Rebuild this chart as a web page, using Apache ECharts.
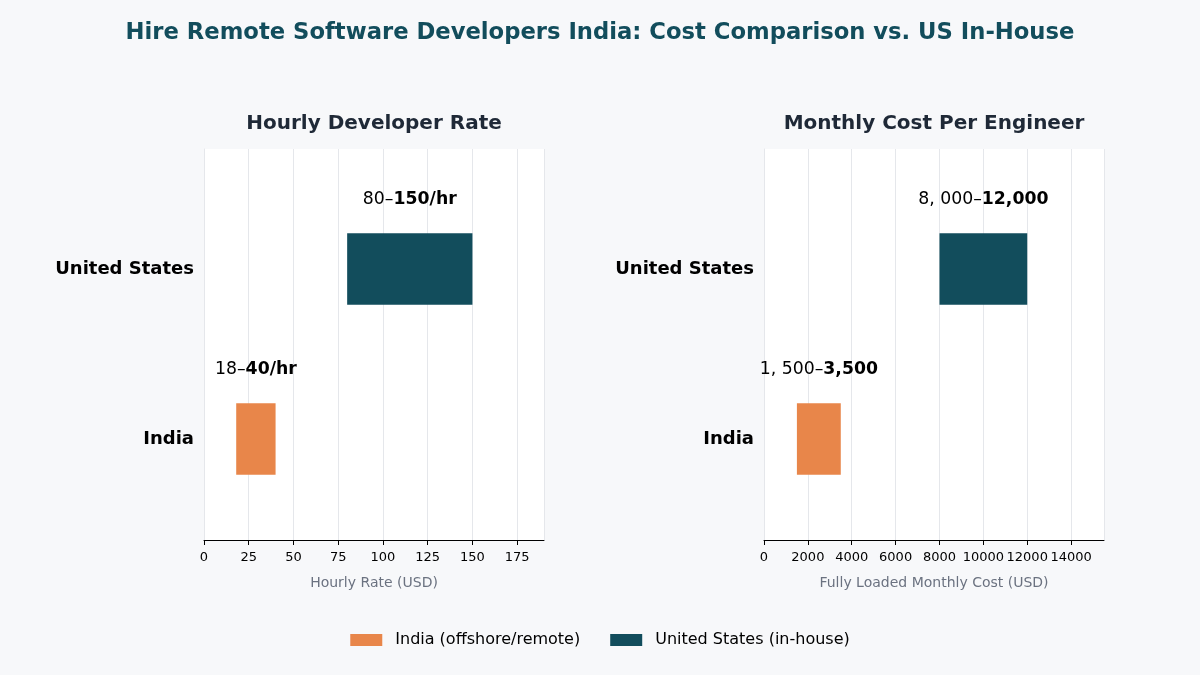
<!DOCTYPE html>
<html>
<head>
<meta charset="utf-8">
<script src="https://cdn.jsdelivr.net/npm/echarts@6/dist/echarts.min.js"></script>
<style>
  html, body { margin: 0; padding: 0; background: #f7f8fa; }
  #main { width: 1200px; height: 675px; }
</style>
</head>
<body>
<div id="main"></div>
<script>
  // categories (bottom to top)
  var categories = ['India', 'United States'];
  var seriesNames = ['India (offshore/remote)', 'United States (in-house)'];

  // hourly rate ranges, USD
  var hourlyLow = [18, 80];
  var hourlyHigh = [40, 150];
  var hourlyLowText = ['18–', '80–'];
  var hourlyHighText = ['40/hr', '150/hr'];

  // monthly fully loaded cost ranges, USD
  var monthlyLow = [1500, 8000];
  var monthlyHigh = [3500, 12000];
  var monthlyLowText = ['1, 500–', '8, 000–'];
  var monthlyHighText = ['3,500', '12,000'];

  var colors = ['#e8864a', '#124d5c'];
  var FONT = 'DejaVu Sans';
  var BAR_H = 0.42;
  var LABEL_OFF = 0.41;

  function rangeItem(params, api) {
    var lo = api.value(0), hi = api.value(1), y = api.value(2);
    var p0 = api.coord([lo, y + BAR_H / 2]);
    var p1 = api.coord([hi, y - BAR_H / 2]);
    var pc = api.coord([(lo + hi) / 2, y + LABEL_OFF]);
    return {
      type: 'group',
      children: [{
        type: 'rect',
        shape: { x: p0[0], y: p0[1], width: p1[0] - p0[0], height: p1[1] - p0[1] },
        style: { fill: api.visual('color') }
      }, {
        type: 'text',
        x: pc[0],
        y: pc[1],
        style: {
          text: '{n|' + api.value(3) + '}{b|' + api.value(4) + '}',
          align: 'center',
          verticalAlign: 'middle',
          rich: {
            n: { fontFamily: FONT, fontSize: 17.3, color: '#374151' },
            b: { fontFamily: FONT, fontSize: 17.3, fontWeight: 'bold', color: '#1f2937' }
          }
        }
      }]
    };
  }

  function makeSeries(idx, lows, highs, lowText, highText) {
    var out = [];
    for (var i = 0; i < categories.length; i++) {
      out.push({
        name: seriesNames[i],
        type: 'custom',
        xAxisIndex: idx,
        yAxisIndex: idx,
        itemStyle: { color: colors[i] },
        renderItem: rangeItem,
        encode: { x: [0, 1], y: 2 },
        data: [[lows[i], highs[i], i, lowText[i], highText[i]]]
      });
    }
    return out;
  }

  function xAxis(idx, max, interval, name) {
    return {
      type: 'value',
      gridIndex: idx,
      min: 0,
      max: max,
      interval: interval,
      name: name,
      nameLocation: 'middle',
      nameGap: 36,
      nameTextStyle: { fontFamily: FONT, fontSize: 14, color: '#6b7280' },
      axisLine: { show: true, onZero: false, lineStyle: { color: '#000', width: 1 } },
      axisTick: { show: true, length: 5, lineStyle: { color: '#000' } },
      axisLabel: {
        fontFamily: FONT, fontSize: 13, color: '#000', margin: 11,
        showMaxLabel: false,
        formatter: function (v) { return v > max - interval / 2 ? '' : String(v); }
      },
      splitLine: { show: true, lineStyle: { color: '#e5e7eb', width: 1 } }
    };
  }

  function yAxis(idx) {
    return {
      type: 'value',
      gridIndex: idx,
      min: -0.594,
      max: 1.706,
      axisLine: { show: true, onZero: false, lineStyle: { color: '#e5e7eb' } },
      axisTick: { show: false },
      splitLine: { show: false },
      axisLabel: {
        customValues: [0, 1],
        margin: 10,
        fontFamily: FONT, fontSize: 18, fontWeight: 'bold', color: '#000',
        formatter: function (v) { return categories[Math.round(v)] || ''; }
      }
    };
  }

  var chart = echarts.init(document.getElementById('main'));
  var option = {
    backgroundColor: '#f7f8fa',
    animation: false,
    title: [{
      text: 'Hire Remote Software Developers India: Cost Comparison vs. US In-House',
      left: 'center', top: 17,
      textStyle: { fontFamily: FONT, fontSize: 22.7, fontWeight: 'bold', color: '#124d5c' }
    }, {
      text: 'Hourly Developer Rate',
      left: 369, top: 109, textAlign: 'center',
      textStyle: { fontFamily: FONT, fontSize: 20, fontWeight: 'bold', color: '#1f2937' }
    }, {
      text: 'Monthly Cost Per Engineer',
      left: 929, top: 109, textAlign: 'center',
      textStyle: { fontFamily: FONT, fontSize: 20, fontWeight: 'bold', color: '#1f2937' }
    }],
    legend: {
      top: 627,
      left: 'center',
      itemWidth: 32,
      itemHeight: 12,
      itemGap: 30,
      icon: 'rect',
      data: seriesNames,
      textStyle: { fontFamily: FONT, fontSize: 16, color: '#000', padding: [0, 0, 0, 8] }
    },
    grid: [
      { left: 204, top: 149, width: 340, height: 391, show: true, backgroundColor: '#fff', borderWidth: 0 },
      { left: 764, top: 149, width: 340, height: 391, show: true, backgroundColor: '#fff', borderWidth: 0 }
    ],
    xAxis: [
      xAxis(0, 190, 25, 'Hourly Rate (USD)'),
      xAxis(1, 15500, 2000, 'Fully Loaded Monthly Cost (USD)')
    ],
    yAxis: [yAxis(0), yAxis(1)],
    series: makeSeries(0, hourlyLow, hourlyHigh, hourlyLowText, hourlyHighText)
      .concat(makeSeries(1, monthlyLow, monthlyHigh, monthlyLowText, monthlyHighText))
  };
  chart.setOption(option);
</script>
</body>
</html>
